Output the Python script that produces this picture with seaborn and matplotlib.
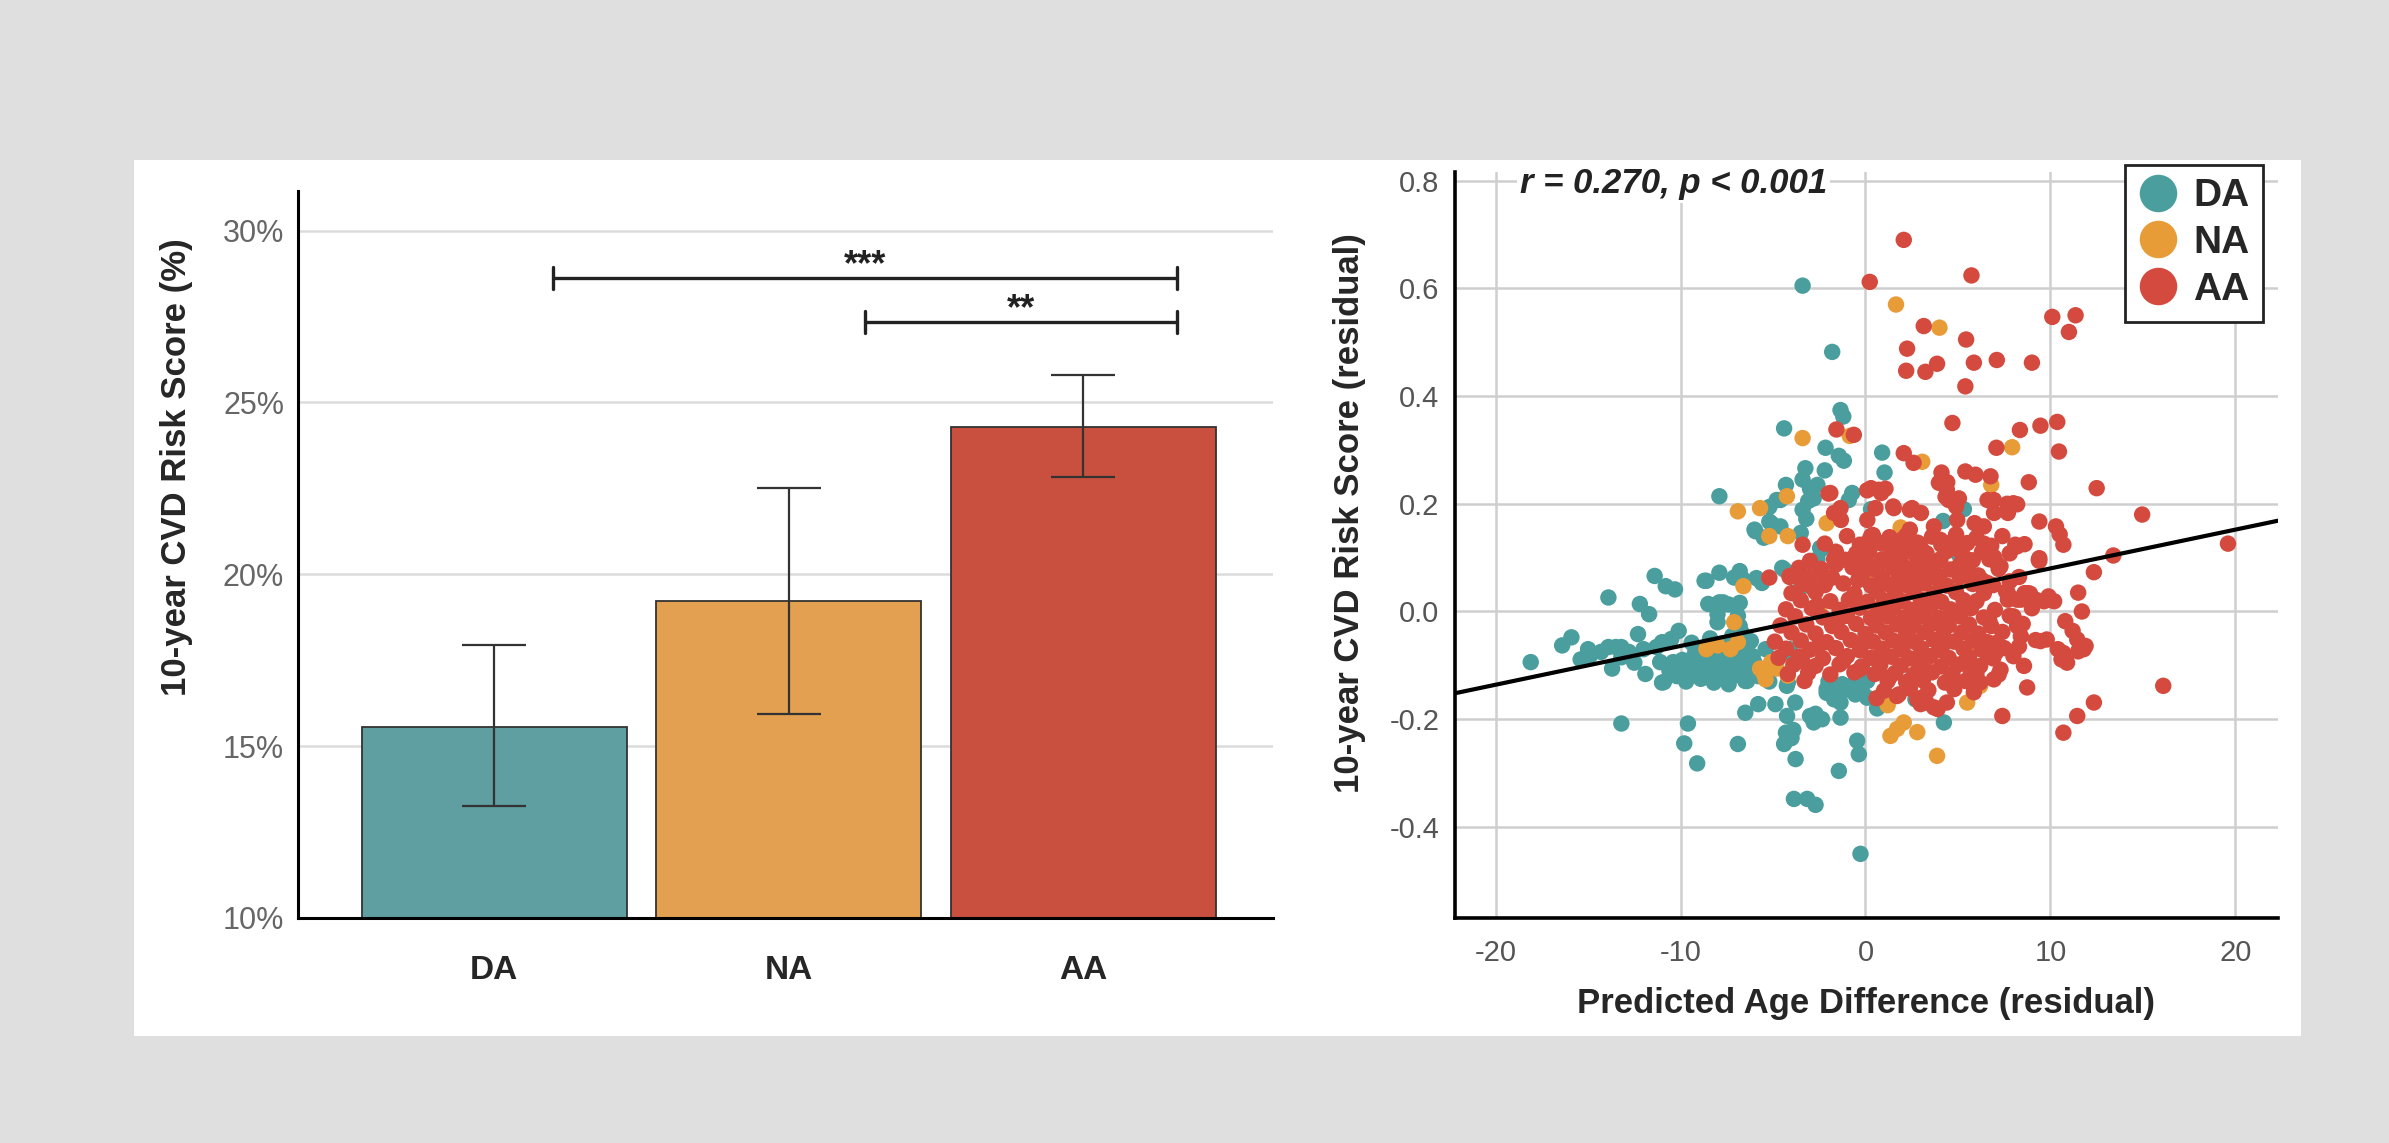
import matplotlib
matplotlib.use('Agg')
import numpy as np
import pandas as pd
import matplotlib.pyplot as plt
from matplotlib.lines import Line2D
from matplotlib.patches import Rectangle
import seaborn as sns

# ---- data: bar panel ----
groups = ['DA', 'NA', 'AA']
bar_means = [15.55, 19.21, 24.29]
bar_lower = [13.25, 15.93, 22.84]
bar_upper = [17.93, 22.50, 25.79]
# significance brackets: start, end, height, label
sig_start = [0.20, 1.26]
sig_end = [2.32, 2.32]
sig_height = [28.62, 27.34]
sig_label = ['***', '**']

# ---- data: scatter panel (predicted age difference, CVD residual) ----
da_pts = [
    (-3.4, 0.605), (-1.8, 0.482), (-1.35, 0.374), (-1.2, 0.362), (-4.4, 0.34),
    (-2.16, 0.304), (-1.44, 0.289), (-1.17, 0.28), (0.9, 0.295), (1.03, 0.258),
    (-3.25, 0.266), (-3.4, 0.245), (-4.3, 0.235), (-4.6, 0.207), (-3.0, 0.228),
    (-3.1, 0.205), (-3.4, 0.189), (-0.72, 0.22), (-0.9, 0.207), (5.32, 0.19),
    (-2.6, 0.235), (-2.8, 0.21), (-7.9, 0.214), (-5.2, 0.194), (-6.0, 0.152),
    (-5.5, 0.137), (-5.2, 0.167), (-4.8, 0.207), (-4.6, 0.158), (-3.5, 0.146),
    (-2.4, 0.115), (-2.6, 0.097), (-4.5, 0.081), (-2.45, 0.118), (5.05, 0.106),
    (4.2, 0.168), (-5.95, 0.149), (-5.1, 0.164), (-4.4, 0.078), (-0.1, 0.078),
    (-3.5, 0.044), (-4.3, -0.076), (-4.1, -0.07), (-4.2, -0.132),
    (-18.1, -0.094), (-16.4, -0.063), (-15.9, -0.048), (-15.0, -0.07), (-14.9, -0.082),
    (-15.4, -0.089), (-13.9, 0.026), (-13.9, -0.066), (-13.5, -0.066), (-13.2, -0.066),
    (-13.7, -0.106), (-13.2, -0.085), (-13.2, -0.208), (-12.2, 0.014), (-11.7, -0.005),
    (-12.3, -0.042), (-11.9, -0.116), (-11.4, 0.066), (-10.8, 0.047), (-10.3, 0.041),
    (-11.3, -0.066), (-11.0, -0.057), (-10.5, -0.051), (-10.1, -0.036), (-11.1, -0.094),
    (-10.9, -0.131), (-10.4, -0.094), (-10.0, -0.106), (-9.6, -0.113), (-9.6, -0.208),
    (-9.8, -0.245), (-9.1, -0.282), (-8.7, 0.057), (-8.6, 0.057), (-7.9, 0.072),
    (-8.5, 0.014), (-7.9, 0.017), (-7.7, 0.017), (-8.0, -0.005), (-8.0, -0.02),
    (-7.1, 0.063), (-6.7, 0.063), (-7.4, 0.013), (-6.8, 0.016), (-6.9, -0.008),
    (-6.8, -0.027), (-6.7, -0.039), (-5.9, 0.062), (-5.6, 0.053), (-6.8, 0.075),
    (-9.9, -0.09), (-9.3, -0.085), (-8.8, -0.095), (-8.3, -0.088), (-7.8, -0.098),
    (-7.2, -0.092), (-6.6, -0.1), (-6.0, -0.095), (-9.5, -0.1), (-9.0, -0.112),
    (-8.5, -0.107), (-8.0, -0.118), (-7.5, -0.11), (-6.9, -0.118), (-6.3, -0.113),
    (-5.8, -0.12), (-9.2, -0.075), (-8.7, -0.068), (-8.1, -0.077), (-7.6, -0.072),
    (-7.0, -0.08), (-6.4, -0.075), (-8.9, -0.125), (-8.2, -0.132), (-7.4, -0.135),
    (-6.5, -0.129), (-7.8, -0.06), (-7.2, -0.045), (-6.2, -0.055), (-11.0, -0.132),
    (-10.2, -0.12), (-9.7, -0.13), (-12.8, -0.075), (-12.0, -0.07), (-12.5, -0.095),
    (-14.3, -0.075), (-9.4, -0.058), (-8.4, -0.05), (-6.1, -0.083), (-5.4, -0.07),
    (-10.6, -0.11), (-5.2, -0.13), (-3.2, 0.172), (-2.2, 0.262), (0.3, 0.19),
    (-6.5, -0.188), (-5.8, -0.172), (-4.87, -0.172), (-3.8, -0.169), (-4.24, -0.194),
    (-3.78, -0.274), (-4.3, -0.225), (-4.1, -0.236), (-4.4, -0.246), (-3.9, -0.22),
    (-4.0, -0.235), (-3.0, -0.194), (-2.6, -0.197), (-2.35, -0.2), (-2.8, -0.206),
    (-2.7, -0.19), (-3.87, -0.348), (-3.15, -0.348), (-2.7, -0.359), (-2.1, -0.151),
    (-1.7, -0.163), (-1.35, -0.169), (-1.35, -0.197), (-1.44, -0.296), (-0.45, -0.24),
    (-0.36, -0.265), (-0.27, -0.45), (-0.63, -0.135), (-0.17, -0.15), (0.09, -0.16),
    (-0.55, -0.154), (0.63, -0.18), (2.7, -0.163), (4.24, -0.206), (-1.26, -0.135),
    (-6.9, -0.246), (-4.25, -0.138), (-6.4, -0.129), (-1.0, -0.145), (-2.0, -0.13),
    (-2.1, -0.144), (-1.36, -0.138), (-0.44, -0.144), (0.09, -0.129),
]

na_pts = [
    (1.65, 0.57), (4.0, 0.527), (-3.4, 0.322), (-0.85, 0.326), (3.07, 0.278),
    (7.93, 0.305), (6.8, 0.235), (-2.1, 0.164), (1.9, 0.156), (-6.9, 0.186),
    (-5.7, 0.192), (-5.2, 0.14), (-4.2, 0.14), (-6.6, 0.047), (-4.25, 0.214),
    (-7.1, -0.02), (-8.6, -0.07), (-8.0, -0.063), (-7.3, -0.07), (-6.9, -0.057),
    (-5.7, -0.106), (-5.1, -0.094), (-4.8, -0.106), (-4.2, -0.119), (-5.5, -0.115),
    (1.2, -0.174), (1.35, -0.231), (1.71, -0.218), (2.07, -0.206), (2.8, -0.224),
    (3.87, -0.268), (5.5, -0.169), (5.86, -0.141), (6.2, -0.138), (-5.4, -0.126),
    (0.8, -0.083), (0.09, 0.059), (2.97, 0.115), (5.86, -0.07), (-2.5, 0.0),
    (1.5, 0.09),
]

aa_pts = [
    # sparse points above and right of the main cloud
    (2.07, 0.69), (0.23, 0.612), (5.73, 0.624), (3.15, 0.53), (10.1, 0.547),
    (11.36, 0.55), (11.0, 0.519), (5.44, 0.505), (2.25, 0.488), (2.2, 0.447),
    (3.24, 0.445), (3.87, 0.46), (5.86, 0.462), (7.1, 0.467), (9.0, 0.462),
    (5.4, 0.418), (4.7, 0.35), (-1.57, 0.338), (-0.63, 0.328), (8.35, 0.337),
    (9.46, 0.345), (10.37, 0.352), (7.08, 0.304), (10.46, 0.297), (2.07, 0.294),
    (2.6, 0.276), (4.11, 0.258), (4.42, 0.24), (3.97, 0.239), (5.4, 0.26),
    (5.95, 0.254), (6.76, 0.251), (8.83, 0.24), (12.5, 0.229), (-2.0, 0.219),
    (0.09, 0.225), (0.72, 0.226), (1.08, 0.228), (-1.35, 0.192), (0.54, 0.192),
    (1.53, 0.192), (2.52, 0.192), (4.33, 0.213), (5.05, 0.21), (6.94, 0.207),
    (7.66, 0.2), (8.2, 0.199), (14.96, 0.18), (19.6, 0.126), (13.4, 0.104),
    (12.35, 0.073), (11.5, 0.035), (11.7, 0.0), (10.8, -0.018), (11.2, -0.036),
    (11.45, -0.052), (11.8, -0.07), (10.4, -0.07), (10.6, -0.089), (9.46, -0.055),
    (8.74, -0.141), (16.1, -0.138), (12.35, -0.169), (11.45, -0.194), (10.7, -0.225),
    (7.4, -0.194), (10.2, 0.019), (9.65, 0.019), (9.2, 0.022), (8.2, 0.121),
    (9.4, 0.167), (10.3, 0.158), (10.5, 0.143), (10.7, 0.124), (8.1, 0.124),
    (9.37, 0.096), (7.03, 0.093), (7.3, 0.084), (8.6, 0.034), (8.4, 0.022),
    (7.7, 0.022), (8.0, -0.009), (8.2, -0.027), (8.4, -0.046), (8.3, -0.065),
    (11.9, -0.064), (11.5, -0.074), (10.7, -0.077), (10.9, -0.095), (9.8, -0.052),
    (7.1, -0.058), (7.03, -0.077), (8.57, -0.101), (7.3, -0.108), (6.94, -0.126),
    (6.2, -0.132), (5.86, -0.15), (3.9, -0.181), (4.4, -0.169), (3.3, -0.169),
    (1.7, -0.157), (2.8, -0.163), (1.8, -0.154), (2.98, -0.172), (3.7, -0.178),
    (-1.9, 0.22), (0.3, 0.229), (0.85, 0.22), (1.5, 0.195), (2.4, 0.189),
    (3.0, 0.183), (4.4, 0.226), (4.5, 0.207), (4.9, 0.195), (4.96, 0.17),
    (6.6, 0.207), (8.0, 0.201), (6.95, 0.183), (7.7, 0.183), (9.4, 0.099),
    (6.95, 0.101), (5.9, 0.164), (6.4, 0.158), (3.7, 0.158), (4.05, 0.133),
    (-1.7, 0.183), (-1.33, 0.17), (0.1, 0.17), (0.3, 0.14), (2.4, 0.152),
    (2.8, 0.128), (1.0, 0.128), (1.9, 0.115), (-1.7, 0.097), (-0.8, 0.097),
    (-3.0, 0.06), (-2.4, 0.072), (4.05, 0.097), (4.8, 0.078), (5.5, 0.097),
    (3.3, 0.065), (5.86, 0.059), (6.6, 0.053), (7.7, 0.034), (8.8, 0.034),
    (9.9, 0.028), (-5.2, 0.063), (-3.4, 0.124), (-4.1, 0.066), (-3.6, 0.066),
    (-3.2, 0.054),
    # dense core of the cloud
    (-1.0, 0.14), (0.4, 0.142), (1.3, 0.138), (2.2, 0.141), (3.6, 0.139),
    (4.9, 0.143), (6.0, 0.137), (7.4, 0.14),
    (-2.2, 0.126), (-0.3, 0.124), (0.8, 0.127), (1.8, 0.123), (2.9, 0.126),
    (4.1, 0.124), (5.5, 0.127), (6.8, 0.122), (8.6, 0.125),
    (-1.6, 0.111), (-0.5, 0.108), (0.2, 0.112), (1.4, 0.109), (2.5, 0.111),
    (3.3, 0.108), (4.4, 0.112), (5.2, 0.109), (6.3, 0.111), (7.8, 0.108),
    (-3.0, 0.094), (-1.1, 0.096), (0.0, 0.093), (0.9, 0.097), (1.9, 0.094),
    (2.8, 0.096), (3.9, 0.093), (5.8, 0.095), (6.7, 0.097), (9.4, 0.094),
    (-3.6, 0.081), (-2.4, 0.079), (-0.7, 0.082), (0.5, 0.078), (1.5, 0.081),
    (2.3, 0.079), (3.4, 0.082), (4.6, 0.078), (5.5, 0.081), (7.2, 0.079),
    (-4.1, 0.064), (-3.0, 0.066), (-1.8, 0.063), (-0.2, 0.067), (0.9, 0.064),
    (1.8, 0.066), (2.7, 0.063), (4.0, 0.066), (5.1, 0.064), (6.1, 0.067), (8.3, 0.064),
    (-3.4, 0.051), (-2.2, 0.049), (-1.2, 0.052), (0.3, 0.048), (1.2, 0.051),
    (2.2, 0.049), (3.2, 0.052), (4.4, 0.048), (5.8, 0.051), (6.9, 0.049),
    (-4.0, 0.034), (-2.7, 0.036), (-0.6, 0.033), (0.6, 0.037), (1.6, 0.034),
    (2.6, 0.036), (3.7, 0.033), (4.9, 0.036), (6.4, 0.034), (7.6, 0.037), (8.9, 0.033),
    (-3.5, 0.021), (-1.9, 0.019), (-0.9, 0.022), (0.1, 0.018), (1.0, 0.021),
    (2.0, 0.019), (3.0, 0.022), (4.1, 0.018), (5.3, 0.021), (6.0, 0.019), (8.2, 0.022),
    (-4.3, 0.004), (-2.9, 0.006), (-1.4, 0.003), (-0.3, 0.007), (0.7, 0.004),
    (1.5, 0.006), (2.5, 0.003), (3.5, 0.007), (4.6, 0.004), (5.7, 0.006),
    (7.0, 0.003), (9.0, 0.006),
    (-3.8, -0.009), (-2.3, -0.011), (-1.0, -0.008), (0.3, -0.012), (1.2, -0.009),
    (2.1, -0.011), (3.1, -0.008), (4.0, -0.012), (5.1, -0.009), (6.4, -0.011), (7.8, -0.008),
    (-4.6, -0.026), (-3.2, -0.024), (-1.8, -0.027), (-0.5, -0.023), (0.6, -0.026),
    (1.7, -0.024), (2.6, -0.027), (3.6, -0.023), (4.5, -0.026), (5.6, -0.024),
    (6.8, -0.027), (8.5, -0.023),
    (-4.0, -0.039), (-2.7, -0.041), (-1.3, -0.038), (0.0, -0.042), (1.1, -0.039),
    (2.2, -0.041), (3.2, -0.038), (4.2, -0.042), (5.2, -0.039), (6.1, -0.041), (7.4, -0.038),
    (-4.9, -0.056), (-3.5, -0.054), (-2.1, -0.057), (-0.8, -0.053), (0.4, -0.056),
    (1.5, -0.054), (2.7, -0.057), (3.7, -0.053), (4.8, -0.056), (5.8, -0.054),
    (6.6, -0.057), (9.2, -0.053),
    (-4.3, -0.069), (-3.0, -0.071), (-1.6, -0.068), (-0.3, -0.072), (0.9, -0.069),
    (2.0, -0.071), (3.0, -0.068), (4.0, -0.072), (5.3, -0.069), (6.3, -0.071), (7.5, -0.068),
    (-4.7, -0.086), (-3.6, -0.084), (-2.3, -0.087), (-1.0, -0.083), (0.3, -0.086),
    (1.4, -0.084), (2.4, -0.087), (3.5, -0.083), (4.5, -0.086), (5.6, -0.084),
    (6.9, -0.087), (8.0, -0.083),
    (-3.9, -0.099), (-2.7, -0.101), (-1.4, -0.098), (-0.2, -0.102), (0.8, -0.099),
    (1.9, -0.101), (2.9, -0.098), (4.1, -0.102), (5.0, -0.099), (6.2, -0.101),
    (-4.2, -0.116), (-3.1, -0.114), (-1.9, -0.117), (-0.6, -0.113), (0.5, -0.116),
    (1.6, -0.114), (2.6, -0.117), (3.6, -0.113), (4.7, -0.116), (5.7, -0.114), (7.2, -0.117),
    (-3.3, -0.129), (1.2, -0.129), (2.2, -0.131), (3.1, -0.128), (4.3, -0.132),
    (5.4, -0.129), (1.0, -0.147), (2.4, -0.143), (3.4, -0.146), (4.8, -0.144),
    (0.6, -0.161), (3.1, -0.159),
    # in-between points filling the core
    (-0.4, 0.01), (0.5, -0.018), (1.4, 0.012), (2.3, -0.02), (3.3, 0.013),
    (4.3, -0.017), (5.4, 0.011), (6.7, -0.018), (-2.6, 0.012), (-1.5, -0.018),
    (-0.2, -0.062), (0.8, -0.093), (1.9, -0.062), (3.0, -0.092), (4.2, -0.061),
    (5.4, -0.092), (6.6, -0.078), (-1.2, -0.092), (-2.5, -0.062), (-3.4, -0.093),
    (-0.4, 0.058), (0.7, 0.087), (1.8, 0.057), (2.9, 0.086), (4.0, 0.057),
    (5.1, 0.087), (6.3, 0.058), (-1.6, 0.087), (-2.8, 0.042), (7.8, 0.056),
    (-0.3, -0.107), (1.3, -0.122), (3.2, -0.108), (4.6, -0.124), (6.0, -0.116),
    (0.2, 0.132), (2.0, 0.134), (3.0, 0.118), (4.7, 0.13), (6.4, 0.126),
]

# regression line shown in the figure
fit_slope = 0.0072
fit_intercept = 0.008
fit_text = 'r = 0.270, p < 0.001'

bar_colors = ['#5f9ea1', '#e3a050', '#c9503f']
pt_colors = {'DA': '#4a9e9e', 'NA': '#e89c38', 'AA': '#d54a3e'}

sns.set_style('white')
plt.rcParams['font.family'] = ['Liberation Sans', 'DejaVu Sans']
plt.rcParams['axes.unicode_minus'] = False

fig = plt.figure(figsize=(23.89, 11.43), dpi=100, facecolor='#dfdfdf')
# white panel behind both charts
fig.patches.append(Rectangle((0.0561, 0.0936), 0.907, 0.7664, transform=fig.transFigure,
                             facecolor='white', edgecolor='none', zorder=-10))

# ---------------- left: bar chart ----------------
ax1 = fig.add_axes([0.1247, 0.1969, 0.4082, 0.636])
sns.barplot(x=groups, y=bar_means, hue=groups, palette=bar_colors, saturation=1, width=0.9,
            edgecolor='#333333', linewidth=1.3, errorbar=None, legend=False, ax=ax1, zorder=2)
means = np.array(bar_means)
yerr = [means - np.array(bar_lower), np.array(bar_upper) - means]
ax1.errorbar(range(len(groups)), means, yerr=yerr, fmt='none', ecolor='#333333',
             elinewidth=1.6, capsize=23, capthick=1.6, zorder=3)

for x0, x1, y, lab in zip(sig_start, sig_end, sig_height, sig_label):
    ax1.plot([x0, x1], [y, y], color='#222222', lw=2.4, solid_capstyle='butt', zorder=3)
    for xe in (x0, x1):
        ax1.plot([xe, xe], [y - 0.33, y + 0.33], color='#222222', lw=2.4, zorder=3)
    ax1.text((x0 + x1) / 2, y + 0.08, lab, ha='center', va='baseline',
             fontsize=26, fontweight='bold', color='#222222')

ax1.set_xlim(-0.666, 2.645)
ax1.set_ylim(10, 31.15)
ax1.set_yticks([10, 15, 20, 25, 30])
ax1.set_yticklabels([f'{v}%' for v in [10, 15, 20, 25, 30]])
ax1.yaxis.grid(True, color='#dcdcdc', lw=1.8)
ax1.set_axisbelow(True)
for s in ['top', 'right']:
    ax1.spines[s].set_visible(False)
for s in ['left', 'bottom']:
    ax1.spines[s].set_color('black')
    ax1.spines[s].set_linewidth(2.2)
ax1.tick_params(axis='y', length=0, pad=10, labelsize=22, labelcolor='#666666')
ax1.tick_params(axis='x', length=0, pad=27, labelsize=24)
for t in ax1.get_xticklabels():
    t.set_fontweight('bold')
ax1.set_ylabel('10-year CVD Risk Score (%)', fontsize=25, fontweight='bold')
ax1.yaxis.set_label_coords(-0.108, 0.62)

# ---------------- right: scatter ----------------
rows = []
for g, pts in zip(groups, [da_pts, na_pts, aa_pts]):
    for x, y in pts:
        rows.append({'age_diff': x, 'cvd_resid': y, 'group': g})
df = pd.DataFrame(rows)

ax2 = fig.add_axes([0.609, 0.1969, 0.3445, 0.6526])
sns.scatterplot(data=df, x='age_diff', y='cvd_resid', hue='group', hue_order=groups,
                palette=pt_colors, s=140, linewidth=0, legend=False, ax=ax2, zorder=2)
ax2.axline((0, fit_intercept), slope=fit_slope, color='black', lw=3, zorder=3)

ax2.set_xlim(-22.2, 22.3)
ax2.set_ylim(-0.569, 0.816)
ax2.set_xticks([-20, -10, 0, 10, 20])
ax2.set_yticks([-0.4, -0.2, 0.0, 0.2, 0.4, 0.6, 0.8])
ax2.set_yticklabels([f'{v:.1f}' for v in [-0.4, -0.2, 0.0, 0.2, 0.4, 0.6, 0.8]])
ax2.grid(True, color='#cfcfcf', lw=1.8)
ax2.set_axisbelow(True)
for s in ['top', 'right']:
    ax2.spines[s].set_visible(False)
for s in ['left', 'bottom']:
    ax2.spines[s].set_color('black')
    ax2.spines[s].set_linewidth(2.6)
ax2.tick_params(axis='y', length=0, pad=11, labelsize=21, labelcolor='#555555')
ax2.tick_params(axis='x', length=0, pad=15, labelsize=21, labelcolor='#555555')
ax2.set_ylabel('10-year CVD Risk Score (residual)', fontsize=25, fontweight='bold')
ax2.yaxis.set_label_coords(-0.108, 0.543)
ax2.set_xlabel('Predicted Age Difference (residual)', fontsize=25, fontweight='bold')
ax2.xaxis.set_label_coords(0.5, -0.092)

ax2.text(0.266, 0.984, fit_text, transform=ax2.transAxes, ha='center', va='center',
         fontsize=25, fontweight='bold', fontstyle='italic', color='#222222', zorder=4,
         bbox=dict(facecolor='white', edgecolor='none', pad=2))

handles = [Line2D([0], [0], marker='o', linestyle='', markersize=27, markeredgewidth=0,
                  markerfacecolor=pt_colors[g]) for g in groups]
leg = ax2.legend(handles, groups, loc='upper right', bbox_to_anchor=(0.982, 1.01),
                 frameon=True, fancybox=False, edgecolor='#222222', framealpha=1,
                 prop={'size': 28, 'weight': 'bold'}, handlelength=1.0, handletextpad=0.4,
                 borderpad=0.35, labelspacing=0.28, borderaxespad=0)
leg.get_frame().set_linewidth(2)

fig.savefig('out.png', dpi=100, facecolor=fig.get_facecolor())
